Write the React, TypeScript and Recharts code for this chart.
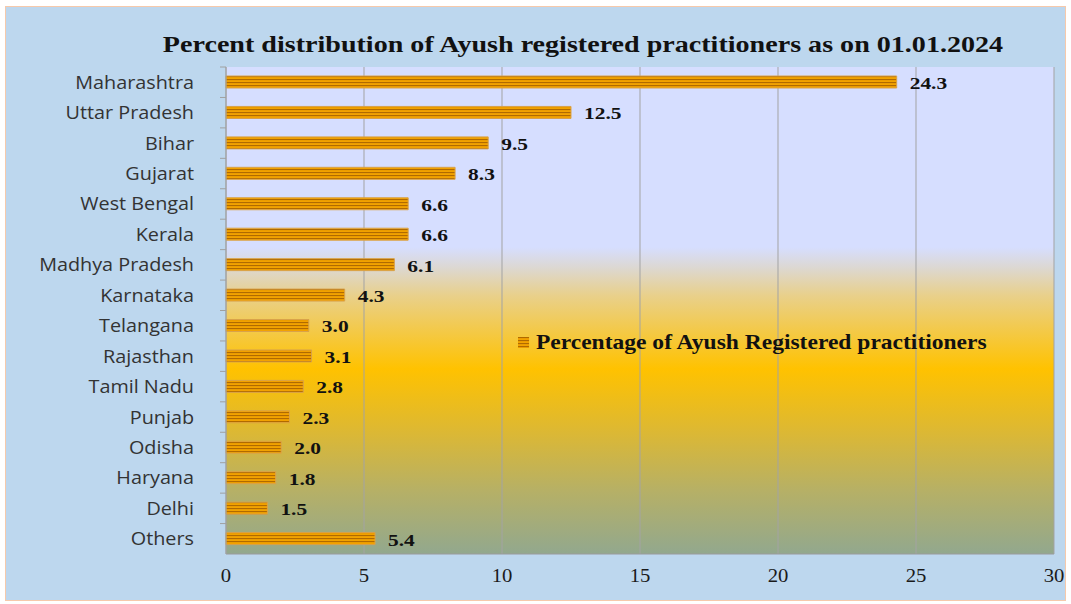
import React from "react";
import { BarChart, Bar, XAxis, YAxis, CartesianGrid, LabelList } from "recharts";

const states = [
  "Maharashtra",
  "Uttar Pradesh",
  "Bihar",
  "Gujarat",
  "West Bengal",
  "Kerala",
  "Madhya Pradesh",
  "Karnataka",
  "Telangana",
  "Rajasthan",
  "Tamil Nadu",
  "Punjab",
  "Odisha",
  "Haryana",
  "Delhi",
  "Others",
];
const percentages = [24.3, 12.5, 9.5, 8.3, 6.6, 6.6, 6.1, 4.3, 3.0, 3.1, 2.8, 2.3, 2.0, 1.8, 1.5, 5.4];
const xTicks = [0, 5, 10, 15, 20, 25, 30];
const title = "Percent distribution of Ayush registered practitioners as on 01.01.2024";
const seriesName = "Percentage of Ayush Registered practitioners";

const data = states.map((name, i) => ({ name, value: percentages[i] }));

const CHART_W = 1059;
const CHART_H = 593;
const MARGIN = { top: 60, right: 11, bottom: 6, left: 0 };
const PLOT_H = CHART_H - MARGIN.top - MARGIN.bottom - 40;
const HALF_BAND = PLOT_H / states.length / 2;

const serif = "'Liberation Serif', 'Times New Roman', serif";

const YTick = (props: any) => {
  const { x, y, payload } = props;
  const axisX = x + 32;
  return (
    <g>
      <line x1={axisX - 6} x2={axisX} y1={y - HALF_BAND} y2={y - HALF_BAND} stroke="#a0a0a0" strokeWidth={1} />
      <text
        transform={`translate(${x},${y}) scale(1.1,1)`}
        dy="0.36em"
        textAnchor="end"
        fill="#333"
        fontFamily="'Open Sans', Lato, sans-serif"
        fontSize={18}
      >
        {payload.value}
      </text>
    </g>
  );
};

const XTick = (props: any) => {
  const { x, y, payload } = props;
  return (
    <text
      transform={`translate(${x},${y}) scale(1.15,1)`}
      dy="0.71em"
      textAnchor="middle"
      fill="#1a1a1a"
      fontFamily={serif}
      fontSize={18}
    >
      {payload.value}
    </text>
  );
};

const ValueLabel = (props: any) => {
  const { x, y, width, height, value } = props;
  const lx = Number(x) + Number(width) + 13;
  const ly = Number(y) + Number(height) / 2;
  return (
    <text
      transform={`translate(${lx},${ly}) scale(1.3,1)`}
      dy="0.42em"
      textAnchor="start"
      fill="#111"
      fontFamily={serif}
      fontWeight="bold"
      fontSize={16.5}
    >
      {Number(value).toFixed(1)}
    </text>
  );
};

export default function App() {
  return (
    <div
      style={{
        position: "absolute",
        left: 5,
        top: 6,
        width: CHART_W,
        height: CHART_H,
        border: "1px solid #f6c9ab",
        background: "#bdd7ee",
      }}
    >
      <div
        style={{
          position: "absolute",
          left: 0,
          width: 1154,
          top: 23,
          textAlign: "center",
          fontFamily: serif,
          fontWeight: "bold",
          fontSize: 24,
          color: "#111",
          whiteSpace: "nowrap",
          lineHeight: "28px",
          transform: "scaleX(1.17)",
          transformOrigin: "577px 0",
        }}
      >
        {title}
      </div>
      <BarChart width={CHART_W} height={CHART_H} data={data} layout="vertical" margin={MARGIN}>
        <defs>
          <linearGradient id="plotBg" x1="0" y1="0" x2="0" y2="1">
            <stop offset="0" stopColor="#d6deff" />
            <stop offset="0.37" stopColor="#d6deff" />
            <stop offset="0.41" stopColor="#dcd8d4" />
            <stop offset="0.47" stopColor="#e9d08a" />
            <stop offset="0.62" stopColor="#ffc200" />
            <stop offset="0.75" stopColor="#dcb834" />
            <stop offset="0.87" stopColor="#b6b066" />
            <stop offset="1" stopColor="#92a88e" />
          </linearGradient>
          <pattern id="stripes" patternUnits="userSpaceOnUse" width="10" height="3">
            <rect x="0" y="0" width="10" height="3" fill="#f2a200" />
            <rect x="0" y="0" width="10" height="1.1" fill="#b06a00" />
          </pattern>
        </defs>
        <CartesianGrid horizontal={false} vertical={true} stroke="#a3a3a3" fill="url(#plotBg)" fillOpacity={1} />
        <XAxis
          type="number"
          domain={[0, 30]}
          ticks={xTicks}
          height={40}
          tickLine={false}
          tickMargin={9}
          axisLine={{ stroke: "#9a9a9a" }}
          tick={<XTick />}
        />
        <YAxis
          type="category"
          dataKey="name"
          width={220}
          tickLine={false}
          tickSize={6}
          tickMargin={26}
          axisLine={{ stroke: "#a0a0a0" }}
          tick={<YTick />}
          interval={0}
        />
        <Bar
          dataKey="value"
          name={seriesName}
          fill="url(#stripes)"
          stroke="#d9a24a"
          strokeWidth={1}
          barSize={12}
          isAnimationActive={false}
        >
          <LabelList dataKey="value" content={<ValueLabel />} />
        </Bar>
      </BarChart>
      <div
        style={{
          position: "absolute",
          left: 512,
          top: 323,
          display: "flex",
          alignItems: "center",
          fontFamily: serif,
          fontWeight: "bold",
          fontSize: 21,
          color: "#111",
          whiteSpace: "nowrap",
          transform: "scaleX(1.12)",
          transformOrigin: "0 0",
        }}
      >
        <svg width={10} height={11} style={{ marginRight: 6 }}>
          <rect x={0} y={0} width={10} height={11} fill="url(#stripes)" />
        </svg>
        {seriesName}
      </div>
    </div>
  );
}
